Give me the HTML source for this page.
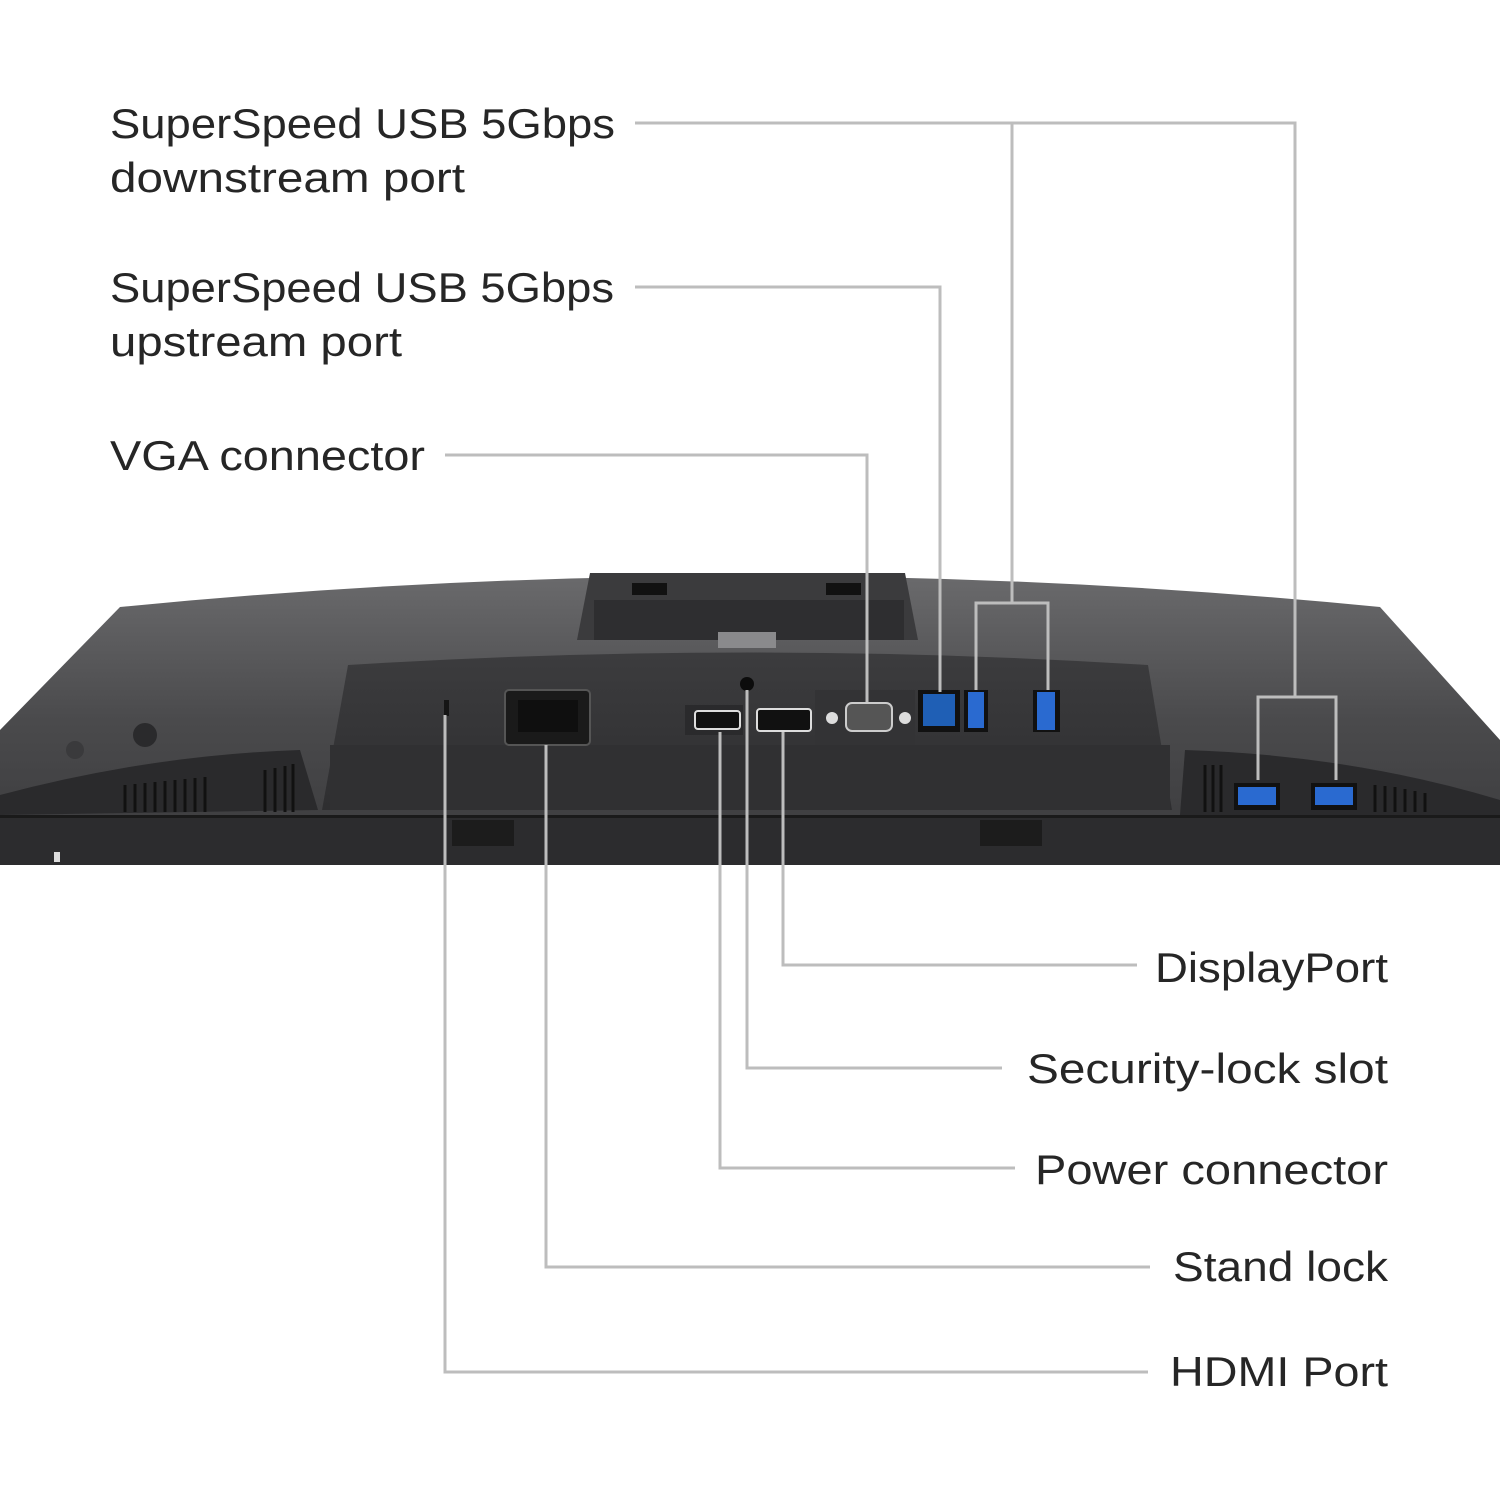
<!DOCTYPE html>
<html><head><meta charset="utf-8"><style>
html,body{margin:0;padding:0;background:#fff;}
svg{display:block;}
text{font-family:"Liberation Sans",sans-serif;font-size:42px;fill:#262626;}
</style></head><body>
<svg width="1500" height="1500" viewBox="0 0 1500 1500" xmlns="http://www.w3.org/2000/svg">
<defs>
<linearGradient id="body" x1="0" y1="0" x2="0" y2="1">
<stop offset="0" stop-color="#6a6a6c"/><stop offset="0.5" stop-color="#4a4a4c"/><stop offset="1" stop-color="#3a3a3c"/>
</linearGradient>
<linearGradient id="rec" x1="0" y1="0" x2="0" y2="1">
<stop offset="0" stop-color="#3c3c3e"/><stop offset="1" stop-color="#2e2e30"/>
</linearGradient>
</defs>
<!-- monitor body -->
<path d="M120 607 Q750 545 1380 607 L1500 740 L1500 865 L0 865 L0 730 Z" fill="url(#body)"/>
<!-- stand recess -->
<path d="M590 573 L905 573 L918 640 L577 640 Z" fill="#3b3b3d"/>
<rect x="594" y="600" width="310" height="40" fill="#2e2e30"/>
<rect x="632" y="583" width="35" height="12" fill="#111"/>
<rect x="826" y="583" width="35" height="12" fill="#111"/>
<rect x="718" y="632" width="58" height="16" fill="#8a8a8c"/>
<!-- inner panel -->
<path d="M348 665 Q750 640 1148 665 L1172 810 L322 810 Z" fill="url(#rec)"/>
<rect x="330" y="745" width="840" height="65" fill="#303032"/>
<!-- side vent areas -->
<path d="M0 795 Q150 755 300 750 L318 810 L0 815 Z" fill="#2a2a2c"/>
<path d="M1185 750 Q1350 755 1500 800 L1500 815 L1180 815 Z" fill="#2a2a2c"/>
<g stroke="#111" stroke-width="3">
<path d="M125 785V812M135 784V812M145 783V812M155 782V812M165 781V812M175 780V812M185 779V812M195 778V812M205 777V812M265 770V812M275 768V812M285 766V812M293 764V812"/>
<path d="M1205 765V812M1213 765V812M1221 765V812M1375 785V812M1385 786V812M1395 787V812M1405 789V812M1415 791V812M1425 793V812"/>
</g>
<!-- bottom strip -->
<rect x="0" y="815" width="1500" height="50" fill="#2c2c2e"/>
<rect x="0" y="815" width="1500" height="3" fill="#1a1a1a"/>
<rect x="452" y="820" width="62" height="26" fill="#1c1c1c"/>
<rect x="980" y="820" width="62" height="26" fill="#1c1c1c"/>
<rect x="54" y="852" width="6" height="10" fill="#ddd"/>
<circle cx="145" cy="735" r="12" fill="#2a2a2c"/>
<circle cx="75" cy="750" r="9" fill="#3a3a3c"/>
<!-- ports -->
<rect x="505" y="690" width="85" height="55" rx="4" fill="#1a1a1a" stroke="#555" stroke-width="2"/>
<rect x="518" y="700" width="60" height="32" fill="#0f0f0f"/>
<rect x="444" y="700" width="5" height="16" fill="#151515"/>
<circle cx="747" cy="684" r="7" fill="#0c0c0c"/>
<rect x="685" y="705" width="58" height="30" fill="#2a2a2c"/>
<rect x="695" y="711" width="45" height="18" rx="3" fill="#111" stroke="#ddd" stroke-width="2"/>
<rect x="757" y="709" width="54" height="22" rx="3" fill="#111" stroke="#ddd" stroke-width="2"/>
<rect x="815" y="690" width="100" height="55" fill="#333335"/>
<circle cx="832" cy="718" r="6" fill="#ddd"/><circle cx="905" cy="718" r="6" fill="#ddd"/>
<rect x="846" y="703" width="46" height="28" rx="6" fill="#555" stroke="#ccc" stroke-width="2"/>
<rect x="918" y="690" width="42" height="42" fill="#111"/>
<rect x="923" y="694" width="32" height="32" fill="#1f5fb5"/>
<rect x="964" y="690" width="24" height="42" fill="#111"/>
<rect x="968" y="692" width="16" height="36" fill="#2a6ad0"/>
<rect x="1033" y="690" width="27" height="42" fill="#111"/>
<rect x="1037" y="692" width="18" height="38" fill="#2a6ad0"/>
<rect x="1234" y="783" width="46" height="27" fill="#111"/>
<rect x="1238" y="787" width="38" height="18" fill="#2a6ad0"/>
<rect x="1311" y="783" width="46" height="27" fill="#111"/>
<rect x="1315" y="787" width="38" height="18" fill="#2a6ad0"/>
<!-- connectors -->
<g fill="none" stroke="#bdbdbd" stroke-width="3">
<path d="M635 123H1295V697M1258 780V697H1336V780"/>
<path d="M1012 123V603M976 690V603H1048V690"/>
<path d="M635 287H940V692"/>
<path d="M445 455H867V702"/>
<path d="M783 732V965H1137"/>
<path d="M747 690V1068H1002"/>
<path d="M720 732V1168H1015"/>
<path d="M546 745V1267H1150"/>
<path d="M445 715V1372H1148"/>
</g>
<!-- labels -->
<text x="110" y="138" textLength="505" lengthAdjust="spacingAndGlyphs">SuperSpeed USB 5Gbps</text>
<text x="110" y="192" textLength="355" lengthAdjust="spacingAndGlyphs">downstream port</text>
<text x="110" y="302" textLength="504" lengthAdjust="spacingAndGlyphs">SuperSpeed USB 5Gbps</text>
<text x="110" y="356" textLength="292" lengthAdjust="spacingAndGlyphs">upstream port</text>
<text x="110" y="470" textLength="315" lengthAdjust="spacingAndGlyphs">VGA connector</text>
<text x="1155" y="982" textLength="233" lengthAdjust="spacingAndGlyphs">DisplayPort</text>
<text x="1027" y="1083" textLength="361" lengthAdjust="spacingAndGlyphs">Security-lock slot</text>
<text x="1035" y="1184" textLength="353" lengthAdjust="spacingAndGlyphs">Power connector</text>
<text x="1173" y="1281" textLength="215" lengthAdjust="spacingAndGlyphs">Stand lock</text>
<text x="1170" y="1386" textLength="218" lengthAdjust="spacingAndGlyphs">HDMI Port</text>
</svg>
</body></html>
